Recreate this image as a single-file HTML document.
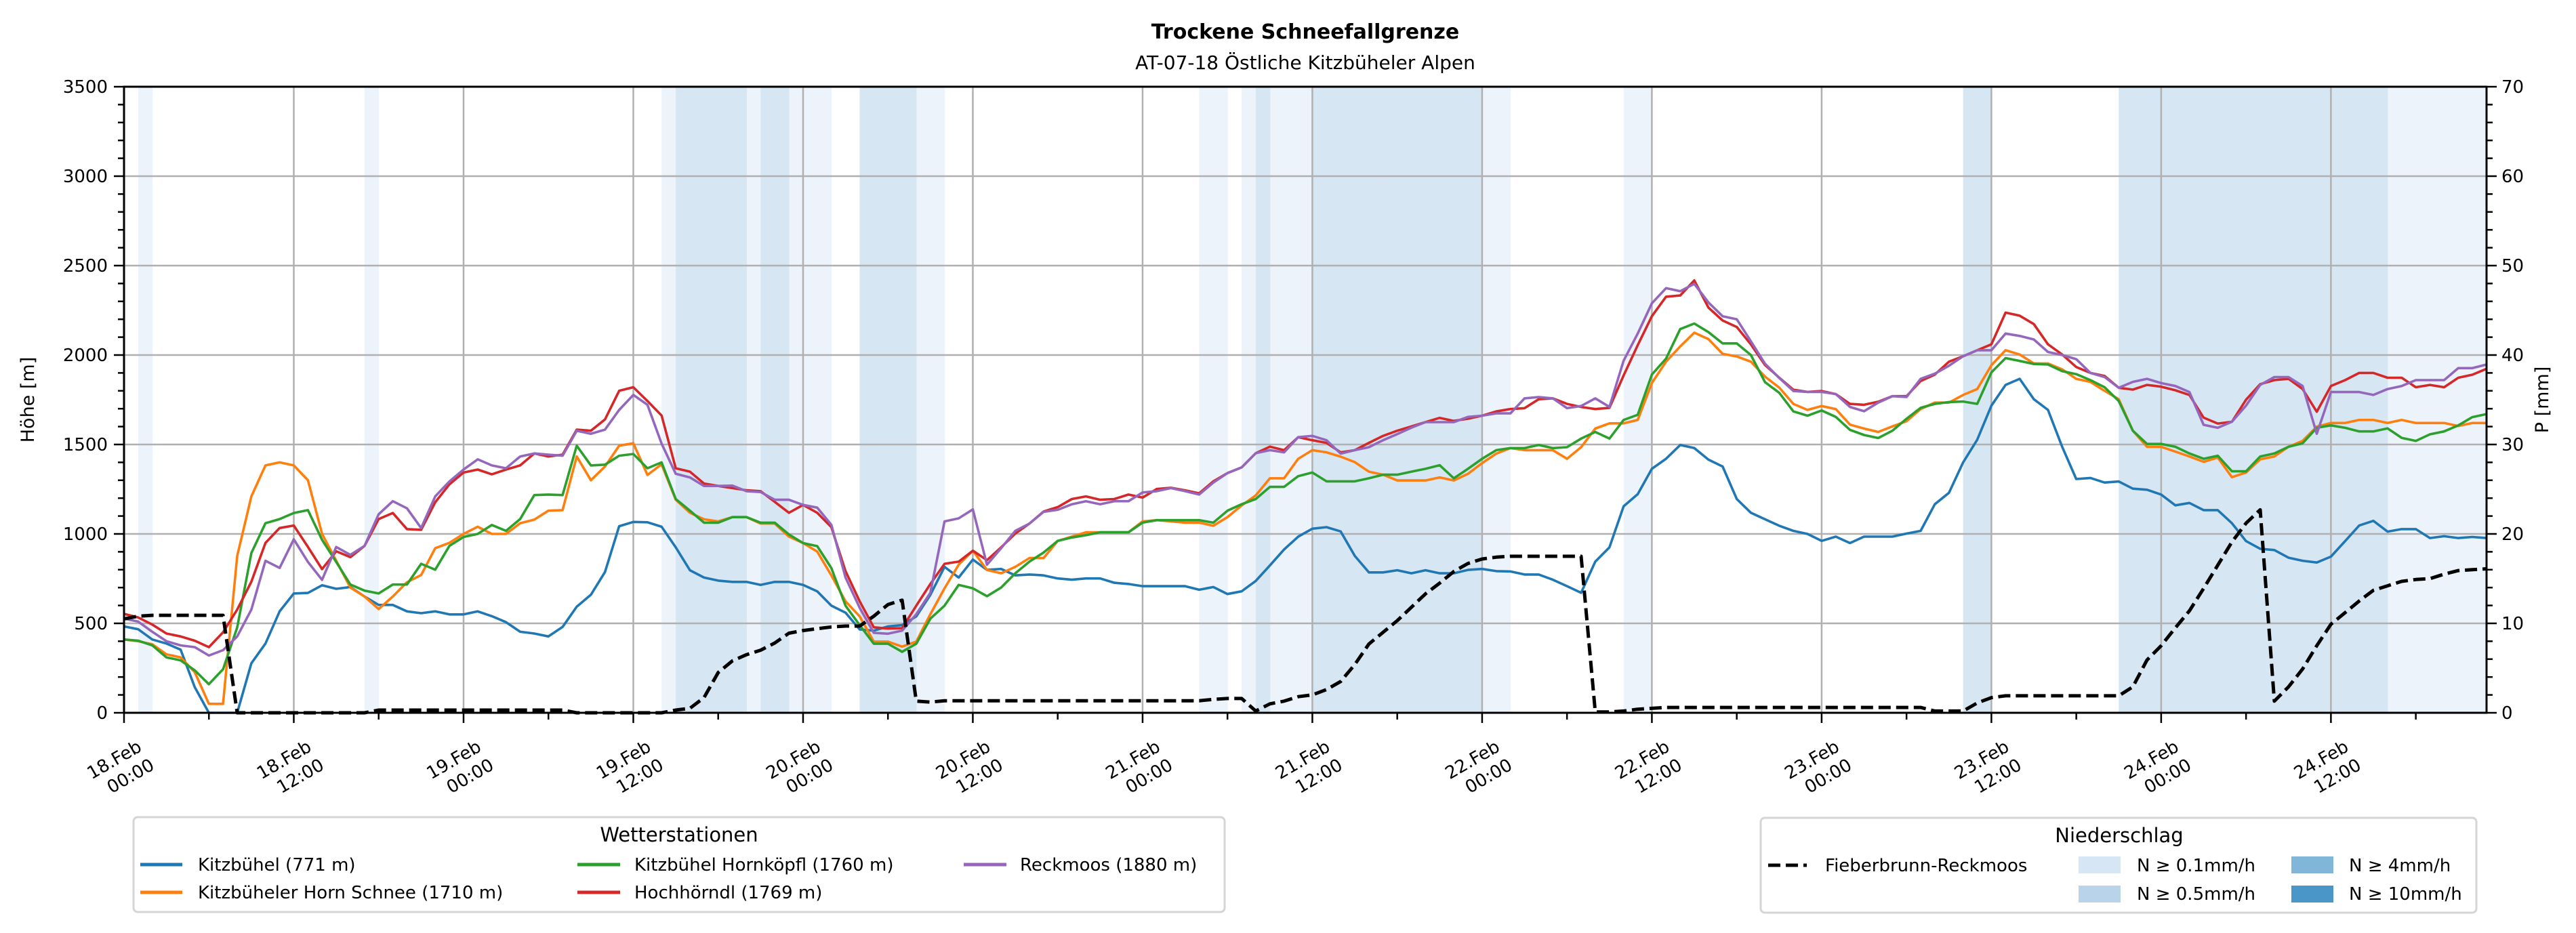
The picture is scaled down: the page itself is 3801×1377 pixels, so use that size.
<!DOCTYPE html>
<html><head><meta charset="utf-8"><title>Trockene Schneefallgrenze</title>
<style>
html,body{margin:0;padding:0;background:#fff;}
svg{display:block;font-family:"DejaVu Sans","Liberation Sans",sans-serif;}
</style></head>
<body>
<svg id="chart" xmlns="http://www.w3.org/2000/svg" width="3801" height="1377" viewBox="0 0 3801 1377">
<rect x="0" y="0" width="3801" height="1377" fill="#fff"/>
<text x="1926" y="57" text-anchor="middle" font-size="30" font-weight="bold">Trockene Schneefallgrenze</text>
<text x="1926" y="102" text-anchor="middle" font-size="28">AT-07-18 Östliche Kitzbüheler Alpen</text>
<g id="bands"></g>
<g id="grid"></g>
<g id="series"></g>
<g id="axes"></g>
<text transform="translate(50,590) rotate(-90)" text-anchor="middle" font-size="27">Höhe [m]</text>
<text transform="translate(3760,590) rotate(-90)" text-anchor="middle" font-size="27">P [mm]</text>

<g>
<rect x="197" y="1206" width="1610" height="140" rx="6" fill="#fff" stroke="#d5d5d5" stroke-width="3"/>
<text x="1002" y="1242" text-anchor="middle" font-size="29">Wetterstationen</text>
<line x1="207" y1="1276" x2="269" y2="1276" stroke="#1f77b4" stroke-width="5"/>
<text x="292" y="1285" font-size="26">Kitzbühel (771 m)</text>
<line x1="207" y1="1317" x2="269" y2="1317" stroke="#ff7f0e" stroke-width="5"/>
<text x="292" y="1326" font-size="26">Kitzbüheler Horn Schnee (1710 m)</text>
<line x1="852" y1="1276" x2="915" y2="1276" stroke="#2ca02c" stroke-width="5"/>
<text x="936" y="1285" font-size="26">Kitzbühel Hornköpfl (1760 m)</text>
<line x1="852" y1="1317" x2="915" y2="1317" stroke="#d62728" stroke-width="5"/>
<text x="936" y="1326" font-size="26">Hochhörndl (1769 m)</text>
<line x1="1422" y1="1276" x2="1485" y2="1276" stroke="#9467bd" stroke-width="5"/>
<text x="1505" y="1285" font-size="26">Reckmoos (1880 m)</text>
</g>

<g>
<rect x="2598" y="1207" width="1056" height="140" rx="6" fill="#fff" stroke="#d5d5d5" stroke-width="3"/>
<text x="3127" y="1243" text-anchor="middle" font-size="29">Niederschlag</text>
<line x1="2609" y1="1277" x2="2666" y2="1277" stroke="#000" stroke-width="5" stroke-dasharray="18,8"/>
<text x="2693" y="1286" font-size="26">Fieberbrunn-Reckmoos</text>
<rect x="3067" y="1264" width="62" height="25" fill="#d6e6f4"/>
<text x="3153" y="1286" font-size="26">N ≥ 0.1mm/h</text>
<rect x="3067" y="1307" width="62" height="25" fill="#b9d4ea"/>
<text x="3153" y="1328" font-size="26">N ≥ 0.5mm/h</text>
<rect x="3381" y="1264" width="62" height="25" fill="#80b6d8"/>
<text x="3466" y="1286" font-size="26">N ≥ 4mm/h</text>
<rect x="3381" y="1307" width="62" height="25" fill="#4a96c8"/>
<text x="3466" y="1328" font-size="26">N ≥ 10mm/h</text>
</g>
</svg>
<script>
const blue=[483,467,410,387,353,143,0,0,0,277,387,567,667,670,713,693,703,650,603,603,567,557,567,550,550,567,540,507,453,443,427,480,593,660,787,1043,1067,1065,1040,925,797,756,739,732,732,715,732,732,715,679,599,560,466,459,483,490,539,659,816,756,857,799,804,768,773,768,751,744,751,751,727,720,708,708,708,708,688,703,664,679,737,824,913,985,1029,1038,1014,877,785,785,797,780,797,780,780,799,804,792,790,773,773,744,708,671,845,925,1154,1222,1364,1420,1497,1480,1415,1377,1195,1118,1082,1046,1017,1000,961,985,949,985,985,985,1002,1017,1166,1230,1400,1527,1717,1833,1867,1753,1693,1487,1307,1313,1287,1293,1253,1247,1220,1160,1173,1133,1133,1060,960,917,910,867,850,840,873,960,1047,1073,1013,1027,1027,977,987,977,983,977];
const orange=[410,400,383,327,310,227,50,50,877,1210,1383,1400,1383,1300,1000,850,700,650,580,650,730,770,920,950,1000,1040,1000,1000,1060,1080,1130,1133,1433,1300,1377,1493,1507,1330,1389,1191,1118,1082,1070,1094,1094,1058,1058,985,949,901,768,623,539,398,398,370,398,551,696,828,906,799,780,816,865,865,961,985,1009,1009,1009,1009,1070,1077,1070,1063,1063,1046,1094,1159,1215,1311,1311,1420,1468,1456,1432,1401,1348,1331,1299,1299,1299,1316,1299,1336,1396,1449,1480,1468,1468,1468,1420,1485,1589,1618,1618,1637,1843,1963,2048,2125,2089,2007,1992,1963,1879,1818,1727,1693,1715,1698,1611,1589,1570,1601,1630,1698,1734,1734,1777,1810,1943,2027,2003,1953,1953,1920,1867,1850,1800,1753,1577,1487,1487,1460,1433,1403,1427,1317,1343,1417,1433,1487,1520,1600,1620,1620,1637,1637,1620,1637,1620,1620,1620,1603,1620,1620];
const green=[410,403,377,310,293,237,160,243,477,893,1060,1083,1117,1133,967,843,717,683,667,717,717,833,800,933,983,1000,1050,1017,1083,1217,1220,1217,1493,1383,1387,1437,1447,1367,1400,1195,1130,1063,1063,1094,1094,1063,1063,997,949,932,809,599,490,386,386,341,386,526,599,715,696,652,700,780,845,896,961,980,993,1009,1009,1009,1063,1077,1077,1077,1077,1063,1130,1166,1195,1263,1263,1323,1343,1294,1294,1294,1311,1331,1331,1348,1364,1384,1311,1364,1420,1468,1480,1480,1497,1480,1485,1533,1570,1533,1637,1666,1891,1980,2145,2176,2128,2065,2065,2000,1848,1789,1685,1661,1690,1654,1582,1553,1536,1577,1644,1705,1727,1737,1740,1727,1903,1983,1967,1950,1947,1910,1893,1860,1820,1743,1577,1503,1503,1487,1450,1420,1437,1350,1350,1433,1450,1487,1507,1593,1607,1593,1573,1573,1590,1537,1520,1557,1573,1607,1653,1670];
const red=[553,533,493,443,427,403,367,450,577,733,950,1033,1047,927,803,903,870,933,1083,1117,1027,1023,1177,1277,1343,1360,1333,1360,1383,1450,1433,1443,1583,1577,1640,1800,1820,1743,1662,1367,1348,1282,1268,1256,1244,1239,1179,1118,1162,1118,1038,792,623,478,471,473,599,720,833,845,906,853,925,1002,1058,1125,1150,1195,1210,1191,1195,1220,1203,1251,1258,1244,1227,1294,1340,1372,1451,1488,1468,1541,1524,1509,1456,1468,1509,1548,1577,1601,1625,1649,1632,1644,1661,1685,1698,1703,1753,1758,1727,1710,1698,1705,1886,2055,2217,2326,2333,2417,2265,2193,2157,2060,1944,1874,1806,1794,1799,1782,1727,1722,1739,1770,1770,1855,1891,1963,1993,2027,2060,2237,2220,2173,2060,2003,1933,1900,1883,1817,1807,1833,1823,1803,1777,1650,1617,1627,1750,1837,1860,1867,1810,1683,1827,1860,1900,1900,1873,1873,1820,1833,1820,1873,1890,1923];
const purple=[527,510,453,400,377,367,320,350,427,577,850,810,970,843,743,927,883,933,1110,1183,1143,1033,1210,1293,1360,1417,1383,1367,1433,1450,1443,1437,1577,1560,1583,1693,1777,1722,1505,1336,1316,1268,1268,1270,1239,1234,1191,1191,1162,1147,1051,756,587,447,442,459,551,671,1070,1087,1137,828,920,1017,1058,1123,1135,1166,1183,1166,1183,1183,1232,1239,1256,1239,1220,1287,1340,1372,1451,1468,1456,1541,1548,1524,1449,1468,1485,1524,1558,1594,1625,1625,1625,1654,1661,1674,1674,1758,1765,1758,1703,1715,1758,1710,1968,2120,2289,2374,2357,2398,2294,2217,2200,2077,1951,1872,1799,1794,1794,1782,1710,1686,1734,1770,1765,1867,1896,1940,1993,2027,2027,2120,2107,2087,2017,2000,1977,1900,1877,1817,1850,1867,1843,1827,1793,1610,1593,1627,1717,1833,1877,1877,1827,1560,1793,1793,1793,1777,1810,1827,1860,1860,1860,1927,1927,1947];
const precip=[10.5,10.8,10.9,10.9,10.9,10.9,10.9,10.9,0,0,0,0,0,0,0,0,0,0,0.3,0.3,0.3,0.3,0.3,0.3,0.3,0.3,0.3,0.3,0.3,0.3,0.3,0.3,0,0,0,0,0,0,0,0.3,0.5,1.7,4.5,5.8,6.5,7.0,7.8,8.9,9.2,9.4,9.6,9.7,9.7,10.8,12.1,12.6,1.3,1.2,1.35,1.35,1.35,1.35,1.35,1.35,1.35,1.35,1.35,1.35,1.35,1.35,1.35,1.35,1.35,1.35,1.35,1.35,1.35,1.5,1.6,1.6,0.2,1.0,1.3,1.8,2.0,2.6,3.5,5.4,7.7,9.0,10.3,11.8,13.3,14.5,15.8,16.7,17.2,17.4,17.5,17.5,17.5,17.5,17.5,17.5,0.1,0.1,0.2,0.4,0.5,0.6,0.6,0.6,0.6,0.6,0.6,0.6,0.6,0.6,0.6,0.6,0.6,0.6,0.6,0.6,0.6,0.6,0.6,0.6,0.2,0.2,0.2,1.1,1.7,1.9,1.9,1.9,1.9,1.9,1.9,1.9,1.9,1.9,2.9,5.9,7.5,9.5,11.4,13.9,16.5,19.1,21.2,22.7,1.3,2.9,4.9,7.5,9.9,11.2,12.5,13.7,14.2,14.7,14.9,15.0,15.5,15.9,16.0,16.1];
const lightHours=[1,17,38,44,47,48,49,56,57,76,77,79,81,82,83,96,97,106,107,160,161,162,163,164,165,166];
const darkHours=[39,40,41,42,43,45,46,52,53,54,55,80,84,85,86,87,88,89,90,91,92,93,94,95,130,131,141,142,143,144,145,146,147,148,149,150,151,152,153,154,155,156,157,158,159];
const yTicks=[0,500,1000,1500,2000,2500,3000,3500];
const pTicks=[0,10,20,30,40,50,60,70];
const xTickHours=[0,12,24,36,48,60,72,84,96,108,120,132,144,156];
const xTickDays=["18.Feb","18.Feb","19.Feb","19.Feb","20.Feb","20.Feb","21.Feb","21.Feb","22.Feb","22.Feb","23.Feb","23.Feb","24.Feb","24.Feb"];
const xTickTimes=["00:00","12:00","00:00","12:00","00:00","12:00","00:00","12:00","00:00","12:00","00:00","12:00","00:00","12:00"];

const L=183,R=3669,T=128,B=1052,HMAX=167;
const NS='http://www.w3.org/2000/svg';
function xOf(h){return L+(R-L)*h/HMAX;}
function yOf(v){return B-(B-T)*v/3500;}
function pOf(v){return B-(B-T)*v/70;}
function mk(tag,attrs,parent){const e=document.createElementNS(NS,tag);for(const k in attrs)e.setAttribute(k,attrs[k]);parent.appendChild(e);return e;}

const gB=document.getElementById('bands');
lightHours.forEach(h=>{const r=mk('rect',{x:xOf(h),y:T,width:xOf(h+1)-xOf(h)+0.5,height:B-T,fill:'#edf3fa'},gB);

});
darkHours.forEach(h=>{const r=mk('rect',{x:xOf(h),y:T,width:xOf(h+1)-xOf(h)+0.5,height:B-T,fill:'#d7e6f3'},gB);

});

const gG=document.getElementById('grid');
yTicks.forEach(v=>{const l=mk('line',{x1:L,x2:R,y1:yOf(v),y2:yOf(v),stroke:'#b0b0b0','stroke-width':2.5},gG);

});
xTickHours.forEach(h=>{const l=mk('line',{x1:xOf(h),x2:xOf(h),y1:T,y2:B,stroke:'#b0b0b0','stroke-width':2.5},gG);

});

const gS=document.getElementById('series');
function drawLine(arr,color,name,fn,dash){
  const pts=arr.map((v,i)=>xOf(i).toFixed(1)+','+fn(v).toFixed(1)).join(' ');
  const a={points:pts,fill:'none',stroke:color,'stroke-width':dash?5:3.6,'stroke-linejoin':'round'};
  if(dash)a['stroke-dasharray']='18,8';
  const p=mk('polyline',a,gS);
  
  
}
drawLine(blue,'#1f77b4','line-kitzbuehel',yOf);
drawLine(orange,'#ff7f0e','line-horn-schnee',yOf);
drawLine(green,'#2ca02c','line-hornkoepfl',yOf);
drawLine(red,'#d62728','line-hochhoerndl',yOf);
drawLine(purple,'#9467bd','line-reckmoos',yOf);
drawLine(precip,'#000','line-fieberbrunn-precip',pOf,true);

const gA=document.getElementById('axes');
const fr=mk('rect',{x:L,y:T,width:R-L,height:B-T,fill:'none',stroke:'#000','stroke-width':3},gA);


for(let v=0;v<=3500;v+=100){
  const major=v%500===0;
  const t=mk('line',{x1:L-(major?15:9),x2:L,y1:yOf(v),y2:yOf(v),stroke:'#000','stroke-width':2.5},gA);
  
  
}
yTicks.forEach(v=>{const t=mk('text',{x:L-24,y:yOf(v)+9,'text-anchor':'end','font-size':26},gA);t.textContent=v;

});
for(let v=0;v<=70;v+=2){
  const major=v%10===0;
  const t=mk('line',{x1:R,x2:R+(major?15:9),y1:pOf(v),y2:pOf(v),stroke:'#000','stroke-width':2.5},gA);
  
  
}
pTicks.forEach(v=>{const t=mk('text',{x:R+22,y:pOf(v)+9,'text-anchor':'start','font-size':26},gA);t.textContent=v;

});
for(let h=0;h<=HMAX;h+=6){
  const major=h%12===0;
  const t=mk('line',{x1:xOf(h),x2:xOf(h),y1:B,y2:B+(major?15:10),stroke:'#000','stroke-width':2.5},gA);
  
  
}
xTickHours.forEach((h,i)=>{
  const x=xOf(h);
  const a=mk('text',{x:x-14,y:1122,'text-anchor':'middle','dominant-baseline':'central','font-size':26,transform:'rotate(-30 '+(x-14)+' 1122)'},gA);
  a.textContent=xTickDays[i];
  
  
  const b=mk('text',{x:x+10,y:1146,'text-anchor':'middle','dominant-baseline':'central','font-size':26,transform:'rotate(-30 '+(x+10)+' 1146)'},gA);
  b.textContent=xTickTimes[i];
  
  
});
</script>
</body></html>
